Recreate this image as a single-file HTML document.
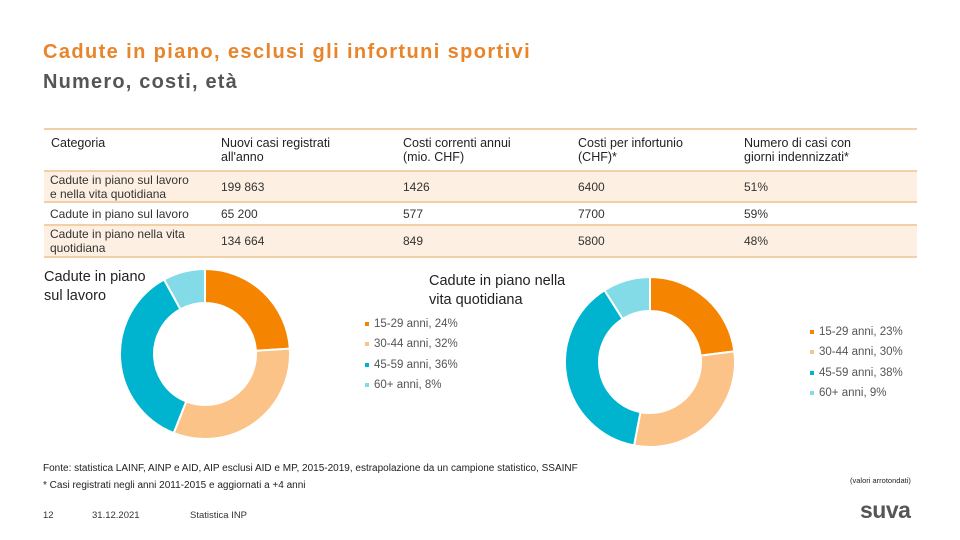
<!DOCTYPE html>
<html><head><meta charset="utf-8"><style>
body{margin:0;width:960px;height:540px;background:#fff;font-family:"Liberation Sans",sans-serif;position:relative;overflow:hidden;color:#333}
.a{position:absolute;white-space:nowrap}
.t{color:#e8842a}
table{position:absolute;left:44px;top:128px;width:873px;border-collapse:collapse;font-size:12px;color:#333}
td{padding:0 6px;vertical-align:middle;line-height:14px}
tr{border-top:2px solid #f3cfa8}
tr:last-child{border-bottom:2px solid #f3cfa8}
.h td{height:40px;font-size:12.5px;color:#222}
.s{background:#fdf0e2}
.leg{font-size:11.5px;color:#555}
.leg i{display:inline-block;width:4px;height:4px;margin-right:5px;vertical-align:middle}
</style></head><body>
<div class="a t" style="left:43px;top:41px;font-size:20px;font-weight:bold;letter-spacing:1.4px">Cadute in piano, esclusi gli infortuni sportivi</div>
<div class="a" style="left:43px;top:71px;font-size:20px;font-weight:bold;letter-spacing:1.2px;color:#555">Numero, costi, età</div>
<table>
<tr class="h"><td style="width:158px;padding-left:7px">Categoria<br>&nbsp;</td><td style="width:170px">Nuovi casi registrati<br>all'anno</td><td style="width:163px">Costi correnti annui<br>(mio. CHF)</td><td style="width:154px">Costi per infortunio<br>(CHF)*</td><td>Numero di casi con<br>giorni indennizzati*</td></tr>
<tr class="s" style="height:31px"><td>Cadute in piano sul lavoro<br>e nella vita quotidiana</td><td>199 863</td><td>1426</td><td>6400</td><td>51%</td></tr>
<tr style="height:23px"><td>Cadute in piano sul lavoro</td><td>65 200</td><td>577</td><td>7700</td><td>59%</td></tr>
<tr class="s" style="height:32px"><td>Cadute in piano nella vita<br>quotidiana</td><td>134 664</td><td>849</td><td>5800</td><td>48%</td></tr>
</table>
<div class="a" style="left:44px;top:268px;font-size:14.5px;line-height:19px;color:#222">Cadute in piano<br>sul lavoro</div>
<div class="a" style="left:429px;top:272px;font-size:14.5px;line-height:19px;color:#222">Cadute in piano nella<br>vita quotidiana</div>
<svg id="svg" class="a" style="left:0;top:0" width="960" height="540"></svg>
<div class="a leg" id="leg1" style="left:365px;top:314px;line-height:20.3px"></div>
<div class="a leg" id="leg2" style="left:810px;top:322px;line-height:20.3px"></div>
<div class="a" style="left:43px;top:463px;font-size:10px;color:#222">Fonte: statistica LAINF, AINP e AID, AIP esclusi AID e MP, 2015-2019, estrapolazione da un campione statistico, SSAINF</div>
<div class="a" style="left:43px;top:480px;font-size:10px;color:#222">* Casi registrati negli anni 2011-2015 e aggiornati a +4 anni</div>
<div class="a" style="left:850px;top:476px;font-size:7.5px;color:#222">(valori arrotondati)</div>
<div class="a" style="left:43px;top:510px;font-size:9.5px">12</div>
<div class="a" style="left:92px;top:510px;font-size:9.5px">31.12.2021</div>
<div class="a" style="left:190px;top:510px;font-size:9.5px">Statistica INP</div>
<div class="a" style="left:860px;top:497px;font-size:23px;font-weight:bold;color:#555;letter-spacing:-0.5px">suva</div>
<script>
const labels=["15-29 anni","30-44 anni","45-59 anni","60+ anni"];
const work=[24,32,36,8];
const daily=[23,30,38,9];
const colors=["#f58400","#fbc388","#00b3cf","#84dbe8"];
const svg=document.getElementById('svg');
function donut(vals,cx,cy,R,r,name){
  const tot=vals.reduce((a,b)=>a+b,0);let a0=0;
  vals.forEach((v,i)=>{
    const a1=a0+v/tot*2*Math.PI;
    const p=(rad,a)=>[cx+rad*Math.sin(a),cy-rad*Math.cos(a)];
    const [x1,y1]=p(R,a0),[x2,y2]=p(R,a1),[x3,y3]=p(r,a1),[x4,y4]=p(r,a0);
    const lg=a1-a0>Math.PI?1:0;
    const el=document.createElementNS('http://www.w3.org/2000/svg','path');
    el.setAttribute('d',`M${x1},${y1}A${R},${R} 0 ${lg} 1 ${x2},${y2}L${x3},${y3}A${r},${r} 0 ${lg} 0 ${x4},${y4}Z`);
    el.setAttribute('fill',colors[i]);el.setAttribute('stroke','#fff');el.setAttribute('stroke-width','2');
    
    
    svg.appendChild(el);a0=a1;
  });
}
donut(work,205,354,85,51,'work');
donut(daily,650,362,85,51,'daily');
function legend(id,vals,name){
  const d=document.getElementById(id);
  vals.forEach((v,i)=>{
    const e=document.createElement('div');
    
    
    e.innerHTML=`<i style="background:${colors[i]}"></i>${labels[i]}, ${v}%`;
    d.appendChild(e);
  });
}
legend('leg1',work,'work');legend('leg2',daily,'daily');
</script>
</body></html>
